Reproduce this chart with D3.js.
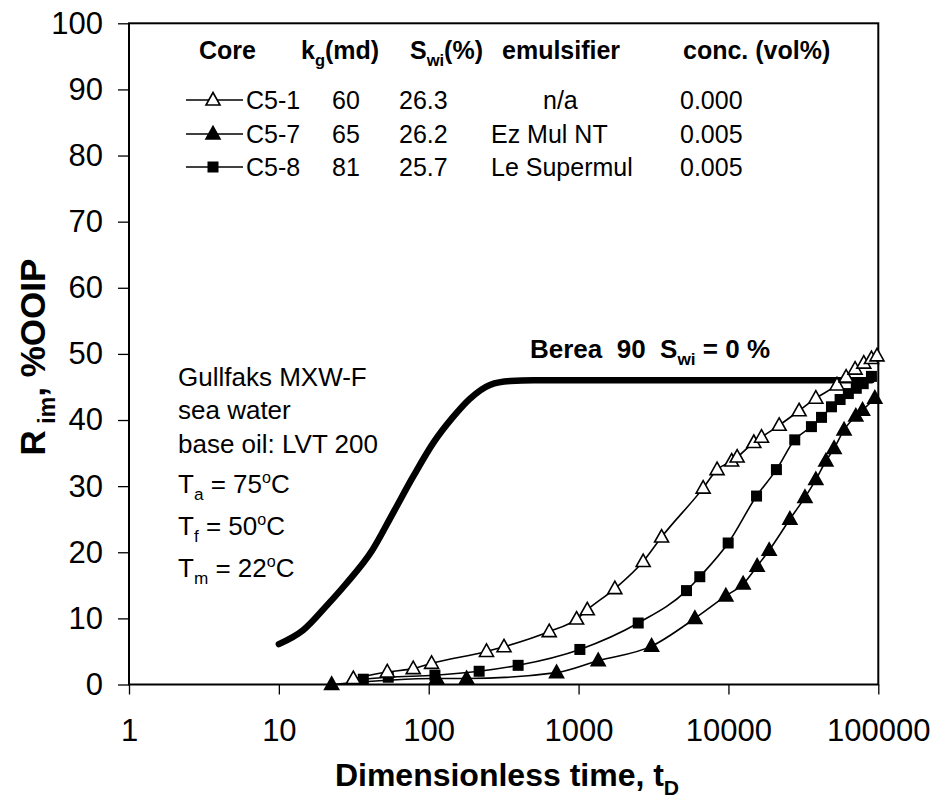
<!DOCTYPE html>
<html>
<head>
<meta charset="utf-8">
<script src="https://cdn.jsdelivr.net/npm/d3@7"></script>
<style>
  html, body { margin: 0; padding: 0; background: #fff; }
  svg { display: block; font-family: "Liberation Sans", Arial, sans-serif; }
</style>
</head>
<body>
<svg id="chart" width="937" height="799"></svg>
<script>
// ---- data ----
const xTicks = [1, 10, 100, 1000, 10000, 100000];
const yTicks = [0, 10, 20, 30, 40, 50, 60, 70, 80, 90, 100];

// Berea 90, Swi = 0 %
const bereaT = [10, 14.5, 21, 28, 42, 58, 79, 107, 146, 188, 256, 350, 500, 1000, 10000, 90000];
const bereaR = [6.1, 8.2, 12.0, 15.2, 20.3, 26.0, 31.5, 36.5, 40.5, 43.2, 45.3, 45.9, 46, 46, 46, 46];

// C5-1 (no emulsifier)
const c51T = [31.4, 52.9, 78.8, 104.5, 243, 318, 637, 970, 1143, 1746, 2698, 3580, 6780, 8400, 10500, 11430, 14770, 16620, 21800, 29600, 38300, 53000, 61000, 70000, 80000, 90000, 98000];
const c51R = [0.9, 1.9, 2.4, 3.2, 5.0, 5.7, 8.0, 9.9, 11.3, 14.5, 18.6, 22.3, 29.7, 32.5, 33.8, 34.4, 36.6, 37.4, 39.2, 41.4, 43.3, 45.3, 46.5, 47.7, 48.6, 49.3, 49.7];

// C5-7 (Ez Mul NT)
const c57T = [22.5, 113, 179, 713, 1352, 3070, 5970, 9610, 12530, 15550, 18700, 25700, 32400, 38300, 44700, 50700, 59100, 70800, 78500, 94800];
const c57R = [0, 0.9, 0.9, 1.8, 3.6, 5.8, 10.0, 13.4, 15.2, 17.9, 20.3, 25.0, 28.3, 31.0, 33.8, 35.7, 38.5, 40.6, 41.5, 43.3];

// C5-8 (Le Supermul)
const c58T = [36.6, 53.7, 110, 217, 395, 1020, 2500, 5250, 6440, 9960, 15400, 20900, 27700, 35800, 41800, 48700, 55600, 63100, 71300, 79300, 90000];
const c58R = [0.8, 1.1, 1.4, 2.0, 2.9, 5.3, 9.3, 14.2, 16.3, 21.4, 28.5, 32.5, 37.0, 39.0, 40.4, 42.0, 43.1, 44.0, 44.8, 45.5, 46.6];

// legend table
const legendCores = ["C5-1", "C5-7", "C5-8"];
const legendKg = ["60", "65", "81"];
const legendSwi = ["26.3", "26.2", "25.7"];
const legendEmul = ["n/a", "Ez Mul NT", "Le Supermul"];
const legendConc = ["0.000", "0.005", "0.005"];
const legendMarkers = ["openTri", "tri", "square"];

// ---- layout ----
const svg = d3.select("#chart");
const x = d3.scaleLog().domain([1, 100000]).range([129, 878.3]);
const y = d3.scaleLinear().domain([0, 100]).range([684.5, 23.3]);
const NB = "\u00A0";

// rich text helper: parts = [[text, "n"|"sub"|"sup"]]
function rich(g, px, py, parts, size, opts = {}) {
  const t = g.append("text")
    .attr("x", px).attr("y", py)
    .attr("font-size", size)
    .attr("font-weight", opts.bold ? "bold" : "normal")
    .attr("text-anchor", opts.anchor || "start")
    .attr("fill", "#000");
  let prev = 0;
  parts.forEach(([s, kind]) => {
    let shift = 0, fs = size;
    if (kind === "sub") { shift = size * 0.28; fs = size * 0.66; }
    if (kind === "sup") { shift = -size * 0.38; fs = size * 0.62; }
    t.append("tspan").attr("dy", shift - prev).attr("font-size", fs).text(s);
    prev = shift;
  });
  return t;
}

// ---- axes ----
const yAxis = d3.axisLeft(y).tickValues(yTicks).tickSize(11).tickPadding(15).tickFormat(d3.format("d"));
const yg = svg.append("g").attr("transform", `translate(${x(1)},0)`).call(yAxis);
yg.select(".domain").remove();
yg.selectAll(".tick line").attr("stroke", "#000").attr("stroke-width", 1.3);
yg.selectAll(".tick text")
  .attr("font-size", 31).attr("fill", "#000")
  .attr("font-family", "Liberation Sans, Arial, sans-serif");

const xAxis = d3.axisBottom(x).tickValues(xTicks).tickSize(10).tickPadding(24).tickFormat(d3.format("d"));
const xg = svg.append("g").attr("transform", `translate(0,${y(0)})`).call(xAxis);
xg.select(".domain").remove();
xg.selectAll(".tick line").attr("stroke", "#000").attr("stroke-width", 1.3);
xg.selectAll(".tick text")
  .attr("font-size", 31).attr("fill", "#000")
  .attr("font-family", "Liberation Sans, Arial, sans-serif");

// plot frame
svg.append("rect")
  .attr("x", x(1)).attr("y", y(100))
  .attr("width", x(100000) - x(1)).attr("height", y(0) - y(100))
  .attr("fill", "none").attr("stroke", "#000").attr("stroke-width", 2);

// axis titles
rich(svg, 507, 786, [["Dimensionless time, t", "n"], ["D", "sub"]], 32, { bold: true, anchor: "middle" });
const ylab = svg.append("g").attr("transform", "translate(45,357) rotate(-90)");
rich(ylab, 0, 0, [["R", "n"], [" im", "sub"], [",  %OOIP", "n"]], 35, { bold: true, anchor: "middle" });

// ---- marks ----
const line = d3.line().x(d => x(d[0])).y(d => y(d[1])).curve(d3.curveMonotoneX);
const zip = (a, b) => a.map((v, i) => [v, b[i]]);

svg.append("path").datum(zip(bereaT, bereaR))
  .attr("d", line).attr("fill", "none").attr("stroke", "#000")
  .attr("stroke-width", 6.5).attr("stroke-linejoin", "round").attr("stroke-linecap", "round");

const triPath = "M0,-7.5L7,5L-7,5Z";
function drawMarker(g, kind, cx, cy) {
  if (kind === "square") {
    g.append("rect").attr("x", cx - 5.5).attr("y", cy - 5.5).attr("width", 11).attr("height", 11)
      .attr("fill", "#000");
  } else {
    g.append("path").attr("d", triPath).attr("transform", `translate(${cx},${cy})`)
      .attr("fill", kind === "tri" ? "#000" : "#fff")
      .attr("stroke", "#000").attr("stroke-width", 1.6).attr("stroke-linejoin", "miter");
  }
}

const series = [
  { t: c57T, r: c57R, m: "tri" },
  { t: c58T, r: c58R, m: "square" },
  { t: c51T, r: c51R, m: "openTri" }
];
series.forEach(s => {
  svg.append("path").datum(zip(s.t, s.r))
    .attr("d", line).attr("fill", "none").attr("stroke", "#000").attr("stroke-width", 1.6);
});
series.forEach(s => {
  const g = svg.append("g");
  s.t.forEach((t, i) => drawMarker(g, s.m, x(t), y(s.r[i])));
});

// ---- legend table ----
const lg = svg.append("g");
const hdr = 25;
rich(lg, 199, 59, [["Core", "n"]], hdr, { bold: true });
rich(lg, 301, 59, [["k", "n"], ["g", "sub"], ["(md)", "n"]], hdr, { bold: true });
rich(lg, 410, 59, [["S", "n"], ["wi", "sub"], ["(%)", "n"]], hdr, { bold: true });
rich(lg, 502, 59, [["emulsifier", "n"]], hdr, { bold: true });
rich(lg, 683, 59, [["conc. (vol%)", "n"]], hdr, { bold: true });

const rowY = [100, 134, 167];
legendCores.forEach((c, i) => {
  const cy = rowY[i];
  lg.append("line").attr("x1", 186).attr("x2", 243).attr("y1", cy).attr("y2", cy)
    .attr("stroke", "#000").attr("stroke-width", 1.6);
  drawMarker(lg, legendMarkers[i], 213, cy);
  const by = cy + 9;
  const fs = 25;
  rich(lg, 246, by, [[c, "n"]], fs);
  rich(lg, 332, by, [[legendKg[i], "n"]], fs);
  rich(lg, 399, by, [[legendSwi[i], "n"]], fs);
  rich(lg, legendEmul[i] === "n/a" ? 543 : 491, by, [[legendEmul[i], "n"]], fs);
  rich(lg, 680, by, [[legendConc[i], "n"]], fs);
});

// ---- annotations ----
const ann = svg.append("g");
const afs = 26;
rich(ann, 178, 386, [["Gullfaks MXW-F", "n"]], afs);
rich(ann, 178, 419, [["sea water", "n"]], afs);
rich(ann, 178, 453, [["base oil: LVT 200", "n"]], afs);
rich(ann, 178, 493, [["T", "n"], ["a", "sub"], [" = 75", "n"], ["o", "sup"], ["C", "n"]], afs);
rich(ann, 178, 535, [["T", "n"], ["f", "sub"], [" = 50", "n"], ["o", "sup"], ["C", "n"]], afs);
rich(ann, 178, 577, [["T", "n"], ["m", "sub"], [" = 22", "n"], ["o", "sup"], ["C", "n"]], afs);

rich(ann, 530, 358, [["Berea" + NB + NB + "90" + NB + NB + "S", "n"], ["wi", "sub"], [" = 0 %", "n"]], 26, { bold: true });
</script>
</body>
</html>
